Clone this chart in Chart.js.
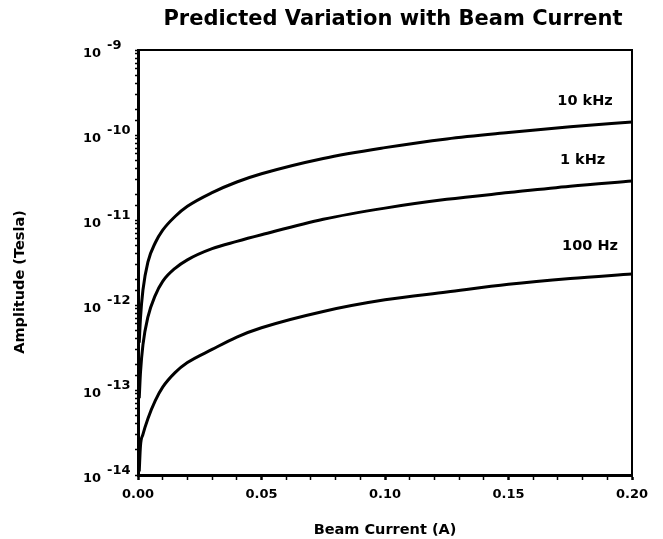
<!DOCTYPE html>
<html>
<head>
<meta charset="utf-8">
<script src="https://cdn.jsdelivr.net/npm/chart.js@4.4.0/dist/chart.umd.min.js"></script>
<style>
  html, body { margin: 0; padding: 0; background: #fff; }
  #wrap { width: 663px; height: 539px; }
</style>
</head>
<body>
<div id="wrap"><canvas id="beamChart" width="663" height="539"></canvas></div>
<script>
// values (beam current in A, amplitude in Tesla)
var current = [0.0005, 0.001, 0.002, 0.004, 0.007, 0.01, 0.015, 0.02, 0.03, 0.04, 0.05, 0.075, 0.1, 0.125, 0.15, 0.175, 0.2];
var amp10kHz = [3.6e-13, 7.0e-13, 1.5e-12, 3.2e-12, 5.4e-12, 7.6e-12, 1.1e-11, 1.45e-11, 2.1e-11, 2.8e-11, 3.5e-11, 5.3e-11, 7.1e-11, 9.0e-11, 1.07e-10, 1.25e-10, 1.42e-10];
var amp1kHz = [8.0e-14, 1.6e-13, 3.4e-13, 7.2e-13, 1.3e-12, 1.9e-12, 2.7e-12, 3.4e-12, 4.6e-12, 5.6e-12, 6.7e-12, 1.02e-11, 1.38e-11, 1.75e-11, 2.1e-11, 2.5e-11, 2.88e-11];
var amp100Hz = [1.1e-14, 2.2e-14, 3.0e-14, 4.6e-14, 7.5e-14, 1.08e-13, 1.6e-13, 2.1e-13, 3.0e-13, 4.2e-13, 5.4e-13, 8.4e-13, 1.15e-12, 1.42e-12, 1.75e-12, 2.05e-12, 2.32e-12];
var seriesNames = ['10 kHz', '1 kHz', '100 Hz'];
var xTickLabels = [0, 0.05, 0.1, 0.15, 0.2];
var yExponents = [-9, -10, -11, -12, -13, -14];

// where each curve name sits, in data units
var nameAt = [[0.181, 2.5e-10], [0.18, 5.1e-11], [0.183, 4.9e-12]];

function pts(ys) {
    return current.map(function (x, i) { return { x: x, y: ys[i] }; });
}

var FONT = '"DejaVu Sans", sans-serif';

var textPlugin = {
    id: 'textPlugin',
    afterDraw: function (chart) {
        var ctx = chart.ctx;
        var area = chart.chartArea;
        var xs = chart.scales.x, ys = chart.scales.y;
        ctx.save();

        // box top and right
        ctx.strokeStyle = '#000';
        ctx.lineWidth = 2;
        ctx.beginPath();
        ctx.moveTo(area.left, area.top);
        ctx.lineTo(area.right, area.top);
        ctx.lineTo(area.right, area.bottom);
        ctx.stroke();

        ctx.fillStyle = '#000';

        // title
        ctx.font = 'bold 21px ' + FONT;
        ctx.textAlign = 'center';
        ctx.textBaseline = 'middle';
        ctx.fillText('Predicted Variation with Beam Current', 393, 20);

        // x tick labels
        ctx.font = 'bold 13px ' + FONT;
        xTickLabels.forEach(function (v) {
            ctx.fillText(v.toFixed(2), xs.getPixelForValue(v), 495);
        });

        // y tick labels 10^n
        yExponents.forEach(function (e) {
            var py = ys.getPixelForValue(Math.pow(10, e));
            ctx.textAlign = 'right';
            ctx.font = 'bold 13px ' + FONT;
            ctx.fillText('10', 101, py + 4);
            ctx.textAlign = 'left';
            ctx.font = 'bold 13px ' + FONT;
            ctx.fillText(String(e), 107, py - 4);
        });

        // axis titles
        ctx.font = 'bold 14.5px ' + FONT;
        ctx.textAlign = 'center';
        ctx.fillText('Beam Current (A)', 385, 530);
        ctx.save();
        ctx.translate(20, 282);
        ctx.rotate(-Math.PI / 2);
        ctx.fillText('Amplitude (Tesla)', 0, 0);
        ctx.restore();

        // curve names
        ctx.font = 'bold 14.5px ' + FONT;
        seriesNames.forEach(function (n, i) {
            ctx.fillText(n, xs.getPixelForValue(nameAt[i][0]), ys.getPixelForValue(nameAt[i][1]));
        });

        ctx.restore();
    }
};

var lineStyle = {
    borderColor: '#000',
    borderWidth: 3,
    pointRadius: 0,
    fill: false,
    cubicInterpolationMode: 'monotone'
};

new Chart(document.getElementById('beamChart').getContext('2d'), {
    type: 'line',
    data: {
        datasets: [
            Object.assign({ label: seriesNames[0], data: pts(amp10kHz) }, lineStyle),
            Object.assign({ label: seriesNames[1], data: pts(amp1kHz) }, lineStyle),
            Object.assign({ label: seriesNames[2], data: pts(amp100Hz) }, lineStyle)
        ]
    },
    options: {
        responsive: false,
        animation: false,
        layout: { padding: { top: 50, right: 31, left: 0, bottom: 0 } },
        plugins: {
            legend: { display: false },
            tooltip: { enabled: false },
            title: { display: false }
        },
        scales: {
            x: {
                type: 'linear',
                min: 0,
                max: 0.2,
                ticks: { display: false, stepSize: 0.01 },
                grid: {
                    drawOnChartArea: false,
                    tickLength: 5,
                    tickColor: '#000',
                    tickWidth: function (c) { return Math.abs(c.tick.value * 20 - Math.round(c.tick.value * 20)) < 1e-6 ? 2.5 : 1.5; }
                },
                border: { color: '#000', width: 3 },
                afterFit: function (s) { s.height = 64; }
            },
            y: {
                type: 'logarithmic',
                min: 1e-14,
                max: 1e-9,
                ticks: { display: false },
                grid: {
                    drawOnChartArea: false,
                    tickLength: 3,
                    tickColor: '#000',
                    tickWidth: 1.5
                },
                border: { color: '#000', width: 3 },
                afterFit: function (s) { s.width = 138; }
            }
        }
    },
    plugins: [textPlugin]
});
</script>
</body>
</html>
